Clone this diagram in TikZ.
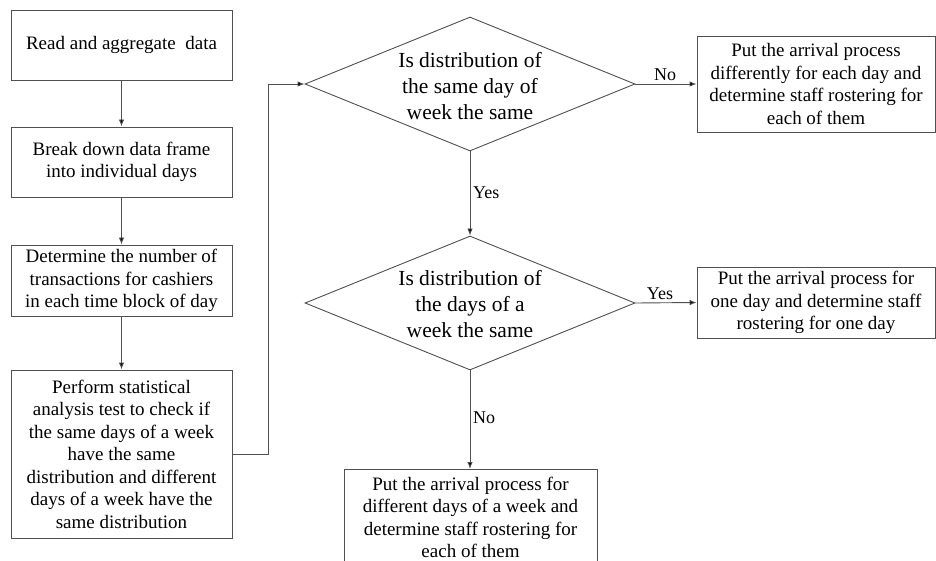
\documentclass[tikz,border=0pt]{standalone}
\usepackage{fontspec}
\setmainfont{Liberation Serif}
\usetikzlibrary{shapes.geometric,arrows.meta}

\definecolor{edge}{HTML}{505050}

\tikzset{
  procbox/.style={draw=edge, line width=0.9pt, align=center, inner sep=0pt,
    font=\fontsize{19}{22.5}\selectfont},
  decision/.style={draw=edge, line width=0.9pt, shape=diamond, inner sep=0pt,
    minimum width=330pt, minimum height=134pt, aspect=2.46},
  dtext/.style={align=center, inner sep=0pt, font=\fontsize{21.5}{26}\selectfont},
  arr/.style={draw=edge, line width=0.9pt, -{Latex[length=7pt,width=5.5pt,fill=black]}},
  lbl/.style={inner sep=0pt, font=\fontsize{18}{20}\selectfont}
}

\begin{document}
\begin{tikzpicture}[x=1pt, y=-1pt]
  \useasboundingbox (0,0) rectangle (936,561);
  \clip (0,0) rectangle (936,561);
  \fill[white] (0,0) rectangle (936,561);

  % left column of processing steps
  \node[procbox, minimum width=221pt, minimum height=70pt] (b1) at (121.5,45)
    {Read and aggregate\ \ data};
  \node[procbox, minimum width=221pt, minimum height=70pt] (b2) at (121.5,162)
    {Break down data frame\\into individual days};
  \node[procbox, minimum width=221pt, minimum height=71pt] (b3) at (121.5,280.5)
    {Determine the number of\\transactions for cashiers\\in each time block of day};
  \node[procbox, minimum width=221pt, minimum height=168pt] (b4) at (121.5,454)
    {Perform statistical\\analysis test to check if\\the same days of a week\\have the same\\distribution and different\\days of a week have the\\same distribution};

  % decisions
  \node[decision] (d1) at (470,84) {};
  \node[dtext] (d1t) at (470,86) {Is distribution of\\the same day of\\week the same};
  \node[decision] (d2) at (470,303) {};
  \node[dtext] (d2t) at (470,304) {Is distribution of\\the days of a\\week the same};

  % outcomes
  \node[procbox, minimum width=238pt, minimum height=96pt] (r1) at (816,84)
    {Put the arrival process\\differently for each day and\\determine staff rostering for\\each of them};
  \node[procbox, minimum width=238pt, minimum height=71pt] (r2) at (816,302.5)
    {Put the arrival process for\\one day and determine staff\\rostering for one day};
  \node[procbox, minimum width=253pt, minimum height=96pt, anchor=north] (b5) at (470.5,469)
    {Put the arrival process for\\different days of a week and\\determine staff rostering for\\each of them};
  \coordinate (b5top) at (470,469);

  % connectors
  \draw[arr] (b1.south) -- (b2.north);
  \draw[arr] (b2.south) -- (b3.north);
  \draw[arr] (b3.south) -- (b4.north);
  \draw[arr] (b4.east) -- ++(36,0) |- (d1.west);

  \draw[arr] (d1.east) -- (r1.west);
  \node[lbl] (lno1) at (665,75) {No};
  \draw[arr] (d1.south) -- (d2.north);
  \node[lbl, anchor=west] (lyes1) at (473,193) {Yes};
  \draw[arr] (d2.east) -- (r2.west);
  \node[lbl] (lyes2) at (660,294) {Yes};
  \draw[arr] (d2.south) -- (b5top);
  \node[lbl, anchor=west] (lno2) at (473,418) {No};
\end{tikzpicture}
\end{document}
